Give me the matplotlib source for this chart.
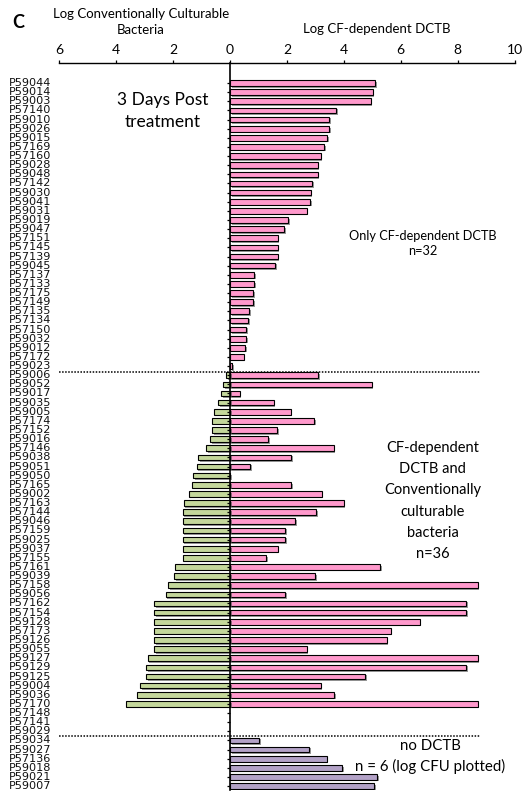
import matplotlib
matplotlib.use("Agg")
import matplotlib.pyplot as plt
import matplotlib.patheffects as pe
from matplotlib.transforms import blended_transform_factory

# =============================================================================
# Data (log values, three days post treatment)
# =============================================================================

# CF-dependent DCTB only
ids_cf_only = [
    'P59044', 'P59014', 'P59003', 'P57140', 'P59010', 'P59026', 'P59015',
    'P57169', 'P57160', 'P59028', 'P59048', 'P57142', 'P59030', 'P59041',
    'P59031', 'P59019', 'P59047', 'P57151', 'P57145', 'P57139', 'P59045',
    'P57137', 'P57133', 'P57175', 'P57149', 'P57135', 'P57134', 'P57150',
    'P59032', 'P59012', 'P57172', 'P59023',
]
dctb_cf_only = [
    5.09, 5.01, 4.94, 3.74, 3.49, 3.49, 3.42, 3.30, 3.19, 3.08, 3.08, 2.89,
    2.84, 2.81, 2.69, 2.05, 1.91, 1.68, 1.68, 1.68, 1.58, 0.85, 0.85, 0.82,
    0.82, 0.67, 0.63, 0.56, 0.56, 0.53, 0.48, 0.07,
]

# CF-dependent DCTB and conventionally culturable bacteria
ids_both = [
    'P59006', 'P59052', 'P59017', 'P59035', 'P59005', 'P57174', 'P57152',
    'P59016', 'P57146', 'P59038', 'P59051', 'P59050', 'P57165', 'P59002',
    'P57163', 'P57144', 'P59046', 'P57159', 'P59025', 'P59037', 'P57155',
    'P57161', 'P59039', 'P57158', 'P59056', 'P57162', 'P57154', 'P59128',
    'P57173', 'P59126', 'P59055', 'P59127', 'P59129', 'P59125', 'P59004',
    'P59036', 'P57170', 'P57148', 'P57141', 'P59029',
]
dctb_both = [
    3.10, 4.98, 0.34, 1.53, 2.13, 2.96, 1.65, 1.35, 3.64, 2.16, 0.71, 0.00,
    2.16, 3.22, 4.00, 3.03, 2.28, 1.94, 1.94, 1.68, 1.27, 5.27, 2.99, 8.71,
    1.94, 8.30, 8.30, 6.67, 5.65, 5.50, 2.69, 8.71, 8.30, 4.75, 3.18, 3.66,
    8.71, 0.00, 0.00, 0.00,
]
cfu_both = [
    0.13, 0.23, 0.32, 0.42, 0.57, 0.62, 0.62, 0.69, 0.84, 1.13, 1.17, 1.30,
    1.33, 1.44, 1.63, 1.66, 1.66, 1.66, 1.66, 1.66, 1.66, 1.92, 1.96, 2.18,
    2.26, 2.67, 2.67, 2.67, 2.67, 2.67, 2.67, 2.89, 2.94, 2.94, 3.16, 3.27,
    3.67, 0.00, 0.00, 0.00,
]

# no DCTB (log CFU plotted)
ids_no_dctb = ['P59034', 'P59027', 'P57136', 'P59018', 'P59021', 'P59007']
cfu_no_dctb = [1.02, 2.77, 3.40, 3.94, 5.17, 5.06]

PINK = '#FF99CC'
GREEN = '#C4D79B'
PURPLE = '#B3A2C7'

# =============================================================================
# Plot
# =============================================================================

plt.rcParams['font.family'] = ['Lato', 'DejaVu Sans']

fig = plt.figure(figsize=(5.26, 7.94), dpi=100)
ax = fig.add_axes([0.1128, 0.005, 0.8654, 0.9157])

n1, n2, n3 = len(ids_cf_only), len(ids_both), len(ids_no_dctb)
y1 = list(range(n1))
y2 = list(range(n1, n1 + n2))
y3 = list(range(n1 + n2, n1 + n2 + n3))

shadow = [pe.SimplePatchShadow(offset=(1.2, -1.2), shadow_rgbFace='#555555',
                               alpha=0.6), pe.Normal()]
bar_kw = dict(height=0.62, edgecolor='black', linewidth=0.8)

bars = [
    ax.barh(y1, dctb_cf_only, color=PINK, **bar_kw),
    ax.barh(y2, dctb_both, color=PINK, **bar_kw),
    ax.barh(y2, [-v for v in cfu_both], color=GREEN, **bar_kw),
    ax.barh(y3, cfu_no_dctb, color=PURPLE, **bar_kw),
]
for bc in bars:
    for patch in bc:
        if patch.get_width() == 0:
            patch.set_visible(False)
        patch.set_path_effects(shadow)

# group separators
for ysep in (n1 - 0.4, n1 + n2 - 0.5):
    ax.plot([-6.1, 8.77], [ysep, ysep], color='black', linestyle=(0, (1, 1)),
            linewidth=1.1, zorder=3)

ax.set_xlim(-6, 10)
ax.set_ylim(n1 + n2 + n3 - 0.57, -2.2)

# x axis on top, labels shown as magnitudes on both sides
ax.xaxis.tick_top()
xt = list(range(-6, 11, 2))
ax.set_xticks(xt)
ax.set_xticklabels([str(abs(v)) for v in xt], fontsize=10)
ax.tick_params(axis='x', direction='out', length=2, width=0.9, pad=3)

# category axis at zero, labels pinned to the left margin
ax.spines['left'].set_position(('data', 0))
ax.spines['left'].set_linewidth(1.2)
ax.spines['top'].set_linewidth(1.0)
for s in ('right', 'bottom'):
    ax.spines[s].set_visible(False)
ax.set_yticks(y1 + y2 + y3)
ax.set_yticklabels([])
ax.tick_params(axis='y', direction='out', length=2.5, width=0.9)

lab_tr = blended_transform_factory(fig.transFigure, ax.transData)
for yy, name in zip(y1 + y2 + y3, ids_cf_only + ids_both + ids_no_dctb):
    ax.text(0.016, yy, name, transform=lab_tr, ha='left', va='center',
            fontsize=8.1, family=['Liberation Sans Narrow', 'DejaVu Sans'],
            color='#111111')

# headings
fig.text(0.034, 0.972, 'C', fontsize=13, fontweight='bold', ha='center',
         va='center')
fig.text(0.268, 0.9723, 'Log Conventionally Culturable\nBacteria',
         fontsize=9.5, ha='center', va='center', linespacing=1.36)
fig.text(0.717, 0.9635, 'Log CF-dependent DCTB', fontsize=9.5, ha='center',
         va='center')

# group annotations
fig.text(0.31, 0.860, '3 Days Post\ntreatment', fontsize=12.5, ha='center',
         va='center', linespacing=1.45)
fig.text(0.804, 0.693, 'Only CF-dependent DCTB\nn=32', fontsize=9.2,
         ha='center', va='center', linespacing=1.3)
fig.text(0.823, 0.369,
         'CF-dependent\nDCTB and\nConventionally\nculturable\nbacteria\nn=36',
         fontsize=10.5, ha='center', va='center', linespacing=1.65)
fig.text(0.818, 0.0472, 'no DCTB\nn = 6 (log CFU plotted)', fontsize=10.8,
         ha='center', va='center', linespacing=1.55)

fig.savefig('out.png', dpi=100)
